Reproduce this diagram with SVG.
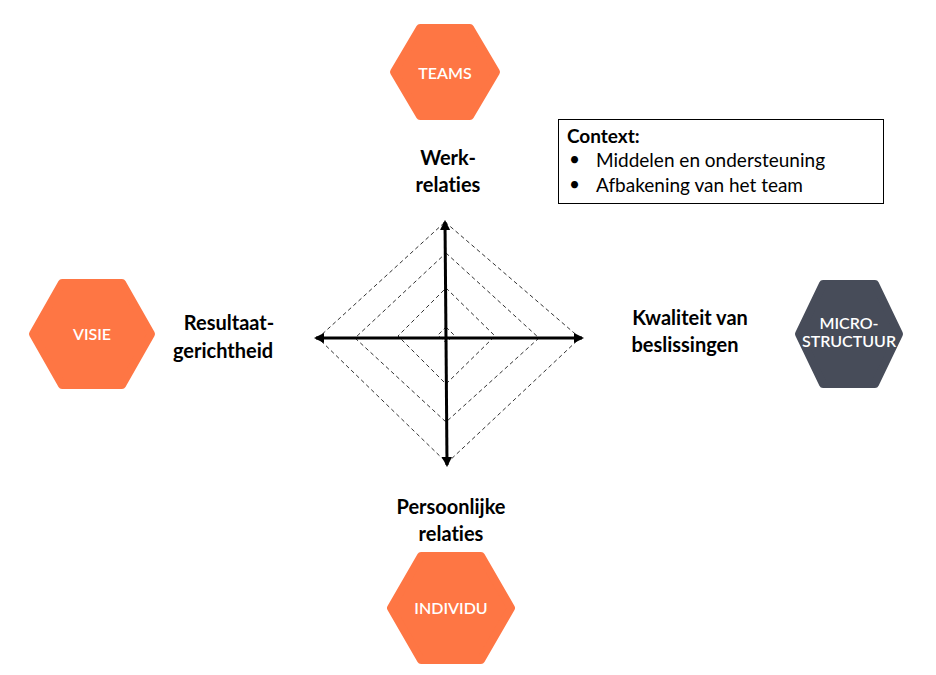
<svg xmlns="http://www.w3.org/2000/svg" width="936" height="675" viewBox="0 0 936 675">
<style>
text{font-variant-ligatures:none}
.hex{fill:#FE7644;stroke:#FE7644;stroke-width:8;stroke-linejoin:round}
.hexd{fill:#474C59;stroke:#474C59;stroke-width:8;stroke-linejoin:round}
.ht{font-family:Lato,"Open Sans",sans-serif;font-weight:600;font-size:16px;fill:#fff;text-anchor:middle}
.lbl{font-family:Lato,"Liberation Sans",sans-serif;font-weight:bold;font-size:20px;fill:#000;text-anchor:middle}
.ctx{font-family:Lato,"Liberation Sans",sans-serif;font-size:19px;fill:#000}
.dash{fill:none;stroke:#333;stroke-width:1;stroke-dasharray:4 3}
.axis{stroke:#000;stroke-width:3;fill:none;marker-end:url(#ah)}
</style>
<defs>
<marker id="ah" viewBox="0 0 10 10" refX="8" refY="5" markerWidth="3.5" markerHeight="3.5" orient="auto" markerUnits="strokeWidth">
<path d="M0,0 L10,5 L0,10 z" fill="#000"/>
</marker>
</defs>
<rect width="936" height="675" fill="#fff"/>
<g id="teams">
<polygon class="hex" points="394,72 420,28 470,28 496,72 470,116 420,116"/>
<text class="ht" x="445" y="79">TEAMS</text>
</g>
<g id="visie">
<polygon class="hex" points="33,334 62,283 122,283 151,334 122,385 62,385"/>
<text class="ht" x="92" y="340">VISIE</text>
</g>
<g id="microstructuur">
<polygon class="hexd" points="799,334 823,284 875,284 899,334 875,384 823,384"/>
<text class="ht" x="849" y="329" font-size="15">MICRO-</text>
<text class="ht" x="849" y="347" font-size="15">STRUCTUUR</text>
</g>
<g id="individu">
<polygon class="hex" points="391,608 421,556 481,556 511,608 481,660 421,660"/>
<text class="ht" x="451" y="614">INDIVIDU</text>
</g>
<g id="context">
<rect x="558.5" y="119.5" width="325" height="84" fill="#fff" stroke="#000" stroke-width="1"/>
<text class="ctx" x="567" y="143" font-weight="bold">Context:</text>
<text class="ctx" x="569" y="166" font-size="14">•</text>
<text class="ctx" x="596" y="167">Middelen en ondersteuning</text>
<text class="ctx" x="569" y="191" font-size="14">•</text>
<text class="ctx" x="596" y="192">Afbakening van het team</text>
</g>
<g id="labels">
<text class="lbl" x="448" y="165">Werk-</text>
<text class="lbl" x="448" y="192">relaties</text>
<text class="lbl" x="229" y="330">Resultaat-</text>
<text class="lbl" x="223" y="358">gerichtheid</text>
<text class="lbl" x="690" y="325">Kwaliteit van</text>
<text class="lbl" x="685" y="352">beslissingen</text>
<text class="lbl" x="451" y="514">Persoonlijke</text>
<text class="lbl" x="451" y="541">relaties</text>
</g>
<g id="connectors">
<polygon class="dash" points="445,222 580,338 447,463 318,338"/>
<polygon class="dash" points="446,253 539,338 446,422 355,338"/>
<polygon class="dash" points="446,288 495,336 446,384 398,336"/>
<polygon class="dash" points="446,327 454,335 446,343 438,335"/>
<line class="axis" x1="446" y1="338" x2="445" y2="222"/>
<line class="axis" x1="446" y1="338" x2="447" y2="465"/>
<line class="axis" x1="446" y1="338" x2="582" y2="338"/>
<line class="axis" x1="446" y1="338" x2="316" y2="338"/>
</g>
</svg>
